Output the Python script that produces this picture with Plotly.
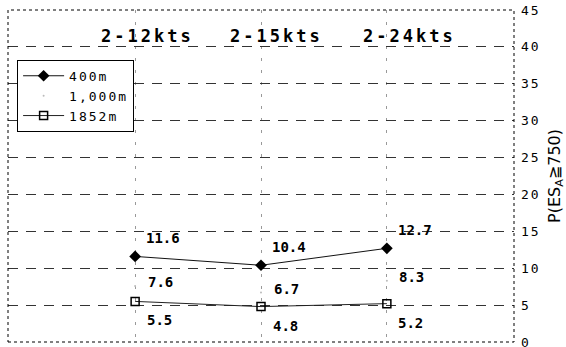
import plotly.graph_objects as go

# Speed bands and detection probabilities per range
categories = ["2-12kts", "2-15kts", "2-24kts"]
p_400 = [11.6, 10.4, 12.7]
p_1000 = [7.6, 6.7, 8.3]
p_1852 = [5.5, 4.8, 5.2]
y_ticks = [0, 5, 10, 15, 20, 25, 30, 35, 40, 45]

FONT = "DejaVu Sans Mono, Liberation Mono, monospace"


def spaced(s, px=2):
    """Open up the letter spacing of a label."""
    return f'<span style="letter-spacing:{px}px">{s}</span>'


fig = go.Figure()

fig.add_trace(go.Scatter(
    x=categories, y=p_400, name=spaced("400m", 2), mode="lines+markers",
    line=dict(color="#111", width=1),
    marker=dict(symbol="diamond", size=9, color="#000"),
))
fig.add_trace(go.Scatter(
    x=categories, y=p_1000, name=spaced("1,000m", 2), mode="markers",
    marker=dict(symbol="circle", size=2, color="#bbb"),
))
fig.add_trace(go.Scatter(
    x=categories, y=p_1852, name=spaced("1852m", 2), mode="lines+markers",
    line=dict(color="#222", width=1),
    marker=dict(symbol="square-open", size=8, color="#000", line=dict(width=1.5)),
))

# Value labels beside each point
label_style = dict(showarrow=False, font=dict(family=FONT, size=14, color="#000", weight="bold"),
                   xanchor="center", yanchor="middle")
for cat, v in zip(categories, p_400):
    fig.add_annotation(x=cat, y=v, text=f"{v:.1f}", xshift=28, yshift=18, **label_style)
for cat, v in zip(categories, p_1000):
    fig.add_annotation(x=cat, y=v, text=f"{v:.1f}", xshift=25, yshift=4, **label_style)
for cat, v in zip(categories, p_1852):
    fig.add_annotation(x=cat, y=v, text=f"{v:.1f}", xshift=24, yshift=-19, **label_style)

# Speed band headings across the top
for cat, dx in zip(categories, [12, 15, 23]):
    fig.add_annotation(x=cat, y=41.5, text=spaced(cat, 3), showarrow=False, xshift=dx,
                       font=dict(family=FONT, size=17, color="#000", weight="bold"),
                       xanchor="center", yanchor="middle")

# Dotted frame round the plotting area
fig.add_shape(type="rect", xref="paper", yref="paper", x0=0, y0=0, x1=1, y1=1,
              line=dict(color="#000", width=1, dash="dot"))

fig.update_layout(
    width=566, height=347,
    margin=dict(l=8, r=52, t=10, b=5, autoexpand=False),
    paper_bgcolor="white", plot_bgcolor="white",
    font=dict(family=FONT, color="#000"),
    showlegend=True,
    legend=dict(
        x=0.018, y=0.85, xanchor="left", yanchor="top",
        bordercolor="#000", borderwidth=1, bgcolor="white",
        font=dict(family=FONT, size=13, color="#000"),
        tracegroupgap=0, itemwidth=41,
    ),
)

fig.update_xaxes(
    type="category", range=[-1.01, 3.01],
    showticklabels=False, ticks="",
    showgrid=True, gridcolor="#999", griddash="3px,9px", gridwidth=1,
    zeroline=False, showline=False,
)
fig.update_yaxes(
    range=[0, 45], side="right", tickvals=y_ticks,
    ticktext=[spaced(str(t), 2) for t in y_ticks],
    ticks="", tickfont=dict(family=FONT, size=13, color="#000"),
    ticklabeloverflow="allow", automargin=False,
    showgrid=True, gridcolor="#333", griddash="10px,8px", gridwidth=1,
    zeroline=False, showline=False, ticklabelstandoff=6,
    title=dict(text="P(ES<sub>A</sub>≧750)", font=dict(family="DejaVu Sans, sans-serif", size=16, color="#000"),
               standoff=14),
)

fig.write_html("out.html")
